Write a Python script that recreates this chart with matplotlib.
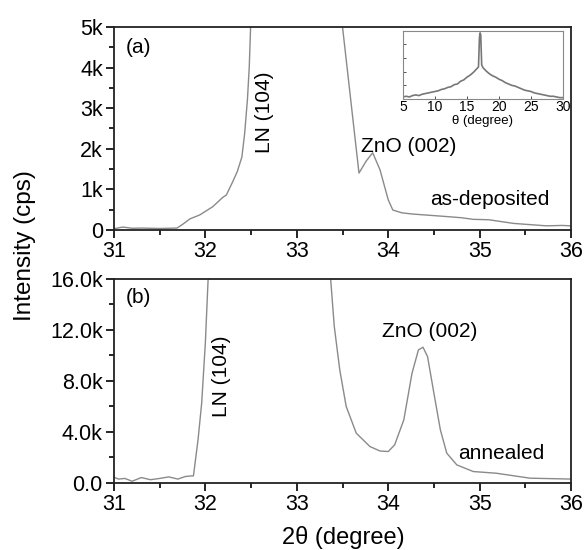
import matplotlib.pyplot as plt
from matplotlib.ticker import MultipleLocator, FuncFormatter

plt.rcParams['font.family'] = ['Liberation Sans', 'DejaVu Sans']

# (a) as-deposited, 2theta scan
two_theta_a = [31.0, 31.1, 31.2, 31.3, 31.4, 31.5, 31.6, 31.69, 31.76, 31.83, 31.94,
               32.08, 32.19, 32.23, 32.3, 32.35, 32.4, 32.43, 32.46, 32.48, 32.495,
               33.0, 33.5, 33.68, 33.76, 33.83, 33.91, 34.0, 34.05, 34.15, 34.27,
               34.45, 34.63, 34.8, 34.93, 35.1, 35.37, 35.55, 35.73, 35.9, 36.0]
counts_a = [30, 70, 40, 45, 40, 35, 40, 45, 150, 270, 370,
            570, 800, 860, 1190, 1440, 1800, 2380, 3200, 4000, 5000,
            150000, 5000, 1400, 1700, 1900, 1480, 740, 490, 420, 390,
            360, 330, 300, 260, 250, 160, 130, 100, 110, 100]

# (b) annealed, 2theta scan
two_theta_b = [31.0, 31.05, 31.12, 31.2, 31.3, 31.4, 31.5, 31.6, 31.7, 31.78, 31.85,
               31.87, 31.92, 31.96, 32.0, 32.03, 32.7, 33.37, 33.41, 33.47, 33.54,
               33.65, 33.8, 33.91, 34.0, 34.07, 34.17, 34.26, 34.33, 34.38, 34.43,
               34.5, 34.57, 34.64, 34.75, 34.93, 35.18, 35.55, 36.0]
counts_b = [450, 300, 350, 130, 420, 250, 350, 470, 300, 500, 550,
            550, 3370, 6250, 10960, 15900, 300000, 16000, 12260, 8860, 6000,
            3900, 2850, 2500, 2460, 2980, 4940, 8600, 10430, 10640, 9900,
            7000, 4160, 2330, 1410, 890, 760, 370, 300]

# inset, theta rocking curve (arb. units)
theta_in = [5.0, 5.5, 6.0, 6.5, 7.0, 7.5, 8.0, 8.5, 9.0, 9.5, 10.0, 10.5, 11.0,
            11.5, 12.0, 12.5, 13.0, 13.5, 14.0, 14.5, 15.0, 15.5, 16.0, 16.5,
            16.8, 16.95, 17.05, 17.15, 17.3, 17.5, 18.0, 18.5, 19.0, 19.5, 20.0,
            20.5, 21.0, 21.5, 22.0, 22.5, 23.0, 23.5, 24.0, 24.5, 25.0, 25.5,
            26.0, 26.5, 27.0, 27.5, 28.0, 28.5, 29.0, 29.5, 30.0]
rock_in = [0.03, 0.04, 0.03, 0.05, 0.06, 0.05, 0.07, 0.08, 0.09, 0.10, 0.11, 0.12, 0.14,
           0.15, 0.17, 0.18, 0.21, 0.22, 0.26, 0.28, 0.32, 0.35, 0.39, 0.44,
           0.47, 0.90, 0.97, 0.94, 0.50, 0.46, 0.41, 0.37, 0.34, 0.32, 0.29,
           0.27, 0.24, 0.22, 0.20, 0.19, 0.17, 0.15, 0.13, 0.12, 0.11, 0.09,
           0.08, 0.07, 0.06, 0.05, 0.04, 0.04, 0.03, 0.02, 0.02]

line_col = '#8a8a8a'

fig = plt.figure(figsize=(5.84, 5.5), dpi=100)
ax1 = fig.add_axes([0.195, 0.582, 0.783, 0.369])
ax2 = fig.add_axes([0.195, 0.122, 0.783, 0.371])


def style(ax):
    ax.set_xlim(31, 36)
    ax.xaxis.set_major_locator(MultipleLocator(1))
    ax.xaxis.set_minor_locator(MultipleLocator(0.5))
    ax.tick_params(which='both', direction='out', top=False, right=False,
                   labelsize=15.5, width=1.2, pad=2)
    ax.tick_params(which='major', length=6)
    ax.tick_params(which='minor', length=3.5)
    for s in ax.spines.values():
        s.set_linewidth(1.3)
        s.set_color('#222222')


ax1.plot(two_theta_a, counts_a, color=line_col, lw=1)
style(ax1)
ax1.set_ylim(0, 5000)
ax1.yaxis.set_major_locator(MultipleLocator(1000))
ax1.yaxis.set_minor_locator(MultipleLocator(500))
ax1.yaxis.set_major_formatter(FuncFormatter(lambda v, p: '0' if v == 0 else f'{v/1000:.0f}k'))
ax1.text(31.13, 4500, '(a)', fontsize=15, va='center')
ax1.text(32.65, 2900, 'LN (104)', fontsize=15, rotation=90, ha='center', va='center')
ax1.text(34.22, 2050, 'ZnO (002)', fontsize=15, ha='center', va='center')
ax1.text(35.11, 740, 'as-deposited', fontsize=15, ha='center', va='center')

ax2.plot(two_theta_b, counts_b, color=line_col, lw=1)
style(ax2)
ax2.set_ylim(0, 16000)
ax2.yaxis.set_major_locator(MultipleLocator(4000))
ax2.yaxis.set_minor_locator(MultipleLocator(2000))
ax2.yaxis.set_major_formatter(FuncFormatter(lambda v, p: '0.0' if v == 0 else f'{v/1000:.1f}k'))
ax2.text(31.13, 14500, '(b)', fontsize=15, va='center')
ax2.text(32.18, 8340, 'LN (104)', fontsize=15, rotation=90, ha='center', va='center')
ax2.text(34.45, 11870, 'ZnO (002)', fontsize=15, ha='center', va='center')
ax2.text(35.24, 2330, 'annealed', fontsize=15, ha='center', va='center')

fig.text(0.043, 0.553, 'Intensity (cps)', rotation=90, fontsize=17.5, ha='center', va='center')
fig.text(0.588, 0.022, '2θ (degree)', fontsize=17, ha='center', va='center')

# inset
axi = fig.add_axes([0.690, 0.820, 0.274, 0.124])
axi.plot(theta_in, rock_in, color='#777777', lw=1.2)
axi.set_xlim(5, 30)
axi.set_ylim(0, 1.0)
axi.xaxis.set_major_locator(MultipleLocator(5))
axi.yaxis.set_major_locator(MultipleLocator(0.2))
axi.set_yticklabels([])
axi.tick_params(direction='in', length=2, width=0.6, labelsize=10, pad=1,
                colors='#333333', labelcolor='black')
for s in axi.spines.values():
    s.set_linewidth(0.8)
    s.set_color('#888888')
axi.set_xlabel('θ (degree)', fontsize=9.5, labelpad=0.5)

fig.savefig('out.png', dpi=100)
